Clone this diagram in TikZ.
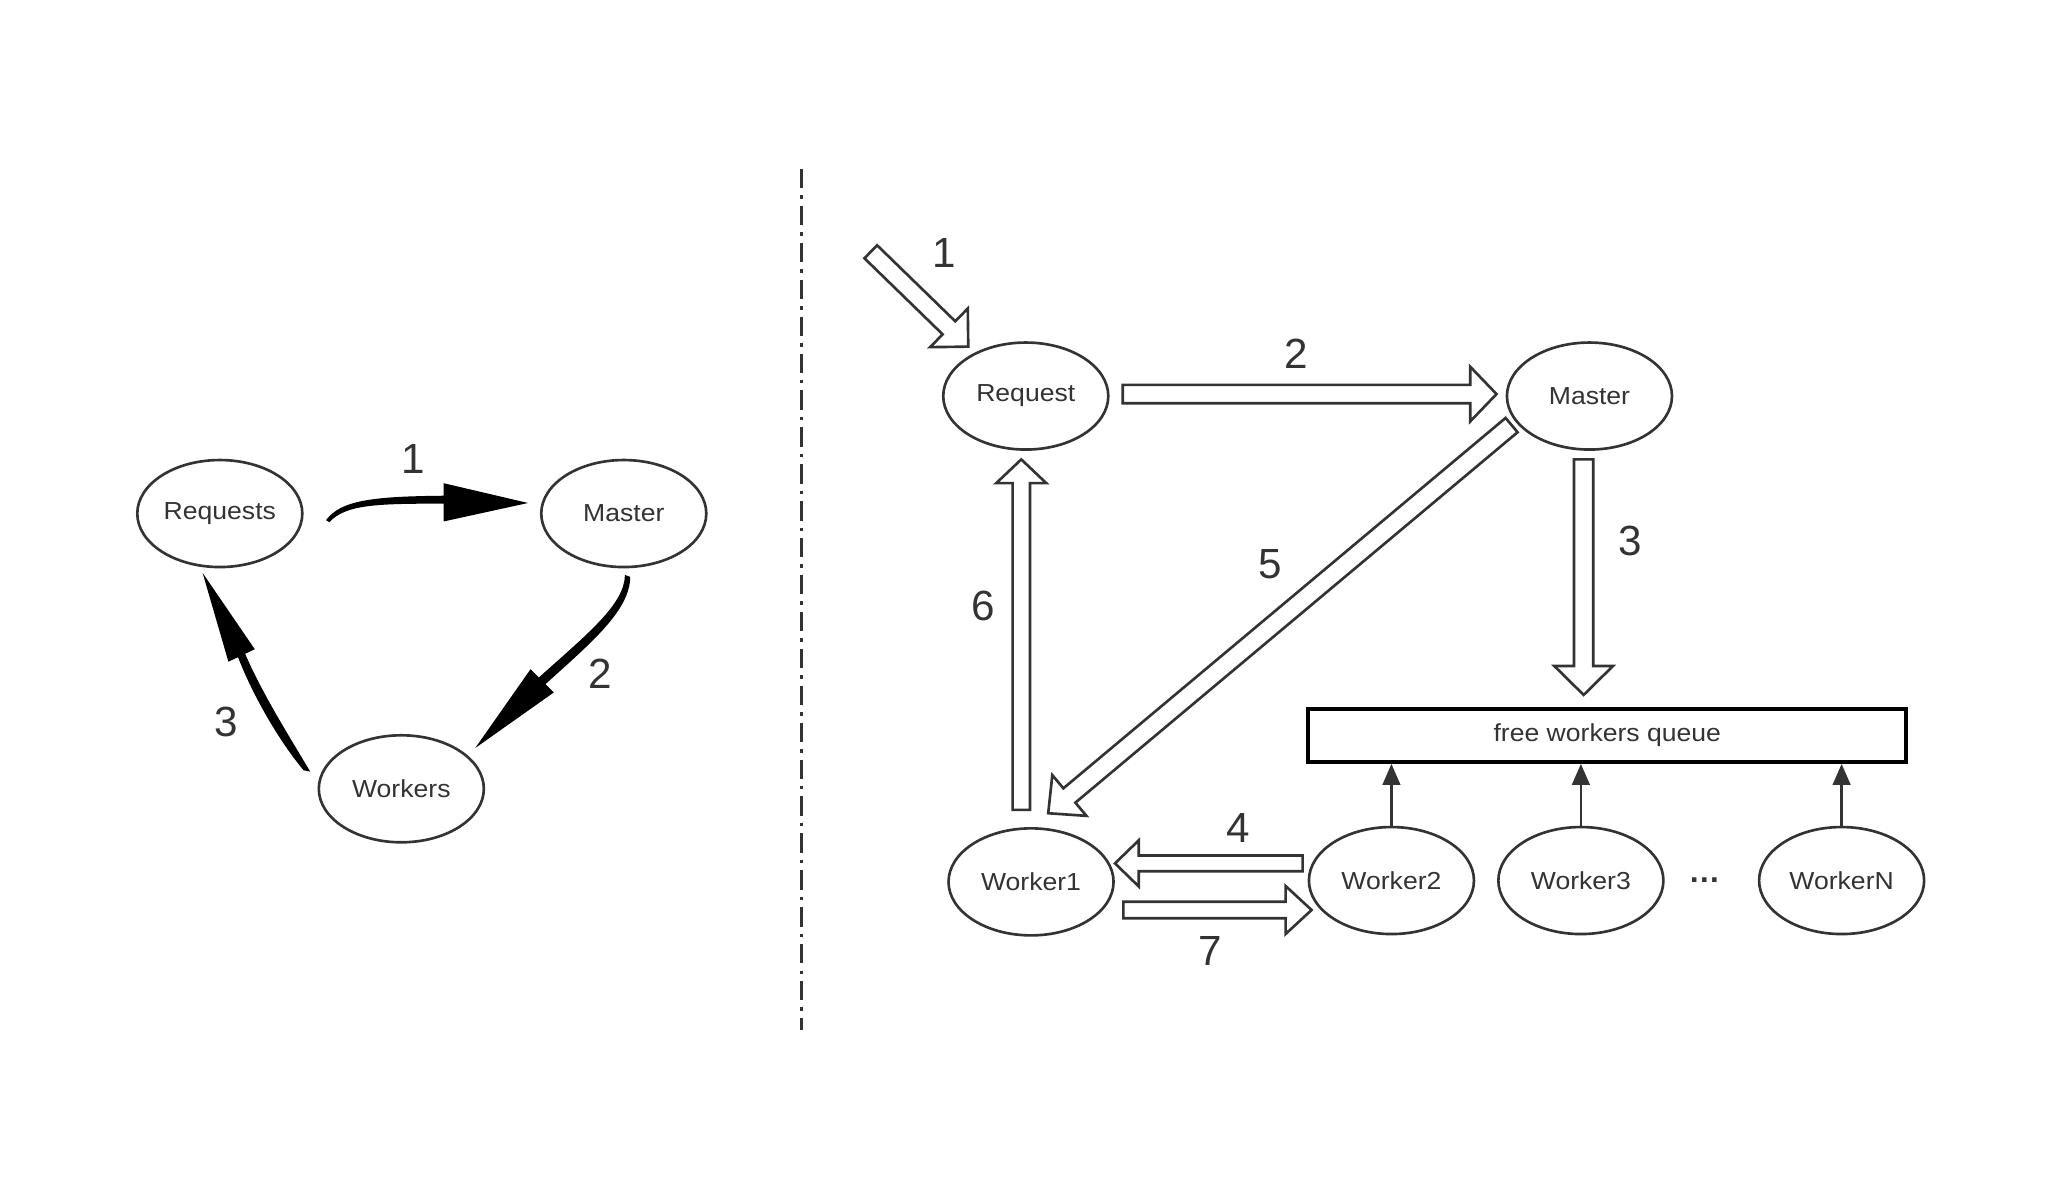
\documentclass[tikz,border=0pt]{standalone}
\usepackage{fontspec}
\setmainfont{Liberation Sans}
\newfontfamily\nodefont[FakeStretch=1.08]{Liberation Sans}
\usetikzlibrary{shapes.geometric,arrows.meta,calc}
\definecolor{ink}{HTML}{333333}
\newcommand\uu{0.37417}
% hollow block arrow: #1 tail, #2 tip, #3 shaft half width, #4 head half width, #5 head length (picture units)
\newcommand\harrow[5]{%
  \draw[hollow] let \p1=(#1), \p2=(#2), \n1={atan2(\y2-\y1,\x2-\x1)}, \n2={veclen(\x2-\x1,\y2-\y1)} in
  [shift={(\p1)}, rotate=\n1]
  (0pt,{-#3*\uu*1pt}) -- ({\n2*1pt-#5*\uu*1pt},{-#3*\uu*1pt}) -- ({\n2*1pt-#5*\uu*1pt},{-#4*\uu*1pt})
  -- ({\n2*1pt},0pt) -- ({\n2*1pt-#5*\uu*1pt},{#4*\uu*1pt}) -- ({\n2*1pt-#5*\uu*1pt},{#3*\uu*1pt})
  -- (0pt,{#3*\uu*1pt}) -- cycle;}
\tikzset{
  ell/.style={ellipse, draw=ink, line width=0.75pt, minimum width=1.65cm, minimum height=1.07cm,
    inner sep=0pt, font=\nodefont\fontsize{7}{8}\selectfont, text=ink},
  lbl/.style={font=\fontsize{12}{14}\selectfont, text=ink, inner sep=0pt},
  hollow/.style={draw=ink, line width=0.75pt, fill=white, line join=miter},
  queuebox/.style={draw=black, line width=1.2pt, minimum width=5.98cm, minimum height=0.528cm,
    inner sep=0pt, font=\nodefont\fontsize{7}{8}\selectfont, text=ink},
  uparrow/.style={draw=ink, line width=0.75pt, -{Triangle[length=6pt,width=5pt]}},
  divider/.style={draw=ink, line width=0.85pt, dash pattern=on 5.5pt off 2pt on 1pt off 2pt}
}
\begin{document}
\begin{tikzpicture}[x=0.0132cm,y=-0.0132cm]
\useasboundingbox (0,0) rectangle (1568,900);
\fill[white] (0,0) rectangle (1568,900);

% ---------- left diagram ----------
\node[ell] (lreq) at (166.5,389) {Requests};
\node[ell] (lmas) at (472.5,389) {Master};
\node[ell] (lwrk) at (304,597.5) {Workers};

% arrow 1 (Requests -> Master)
\fill[black] (247,394) .. controls (258,379) and (282,376) .. (336,375.5)
  -- (336,366) -- (400,381) -- (336,395) -- (336,381.5)
  .. controls (286,381.5) and (262,382) .. (249.5,395.5) -- cycle;
% arrow 2 (Master -> Workers)
\fill[black] (473.4,435.5) .. controls (473,458) and (445,480) .. (408.2,513.2)
  -- (401.9,506.9) -- (360,566.6) -- (419.5,524.5) -- (413.2,518.2)
  .. controls (450,485) and (477,462) .. (477.4,437) -- cycle;
% arrow 3 (Workers -> Requests)
\fill[black] (230,583.5) .. controls (212,562) and (192,528) .. (180.3,497.8)
  -- (173,501.2) -- (153.5,434) -- (193,491.8) -- (185.7,495.2)
  .. controls (198,524) and (218,556) .. (235,584.5) -- cycle;

\node[lbl] (l1) at (313,348) {1};
\node[lbl] (l2) at (455,510) {2};
\node[lbl] (l3) at (171,547) {3};

% ---------- divider ----------
\coordinate (dtop) at (607,128);
\coordinate (dbot) at (607,780);
\draw[divider] (dtop) -- (dbot);

% ---------- right diagram ----------
\node[ell] (rq) at (777,300) {Request};
\node[ell] (ms) at (1204,300) {Master};
\node[ell] (w1) at (781,668) {Worker1};
\node[ell] (w2) at (1054,667) {Worker2};
\node[ell] (w3) at (1197.5,667) {Worker3};
\node[ell] (wn) at (1395,667) {WorkerN};
\node[font=\bfseries\fontsize{9}{10}\selectfont, text=ink, inner sep=0pt] (dots) at (1291,667) {…};
\node[queuebox] (q) at (1217.5,557) {free workers queue};

\draw[uparrow] (w2.north) -- (w2.north |- q.south);
\draw[uparrow] (w3.north) -- (w3.north |- q.south);
\draw[uparrow] (wn.north) -- (wn.north |- q.south);

% arrow end points
\coordinate (a1s) at (659.6,190.7);   \coordinate (a1e) at (733.5,262.6);
\coordinate (a2s) at (850.5,298.5);   \coordinate (a2e) at (1133.6,298.5);
\coordinate (a3s) at (1199.6,348);    \coordinate (a3e) at (1199.6,526.4);
\coordinate (a5s) at (1145,322);      \coordinate (a5e) at (794,616);
\coordinate (a6s) at (773.6,613.5);   \coordinate (a6e) at (773.6,348);
\coordinate (a4s) at (986.7,654);     \coordinate (a4e) at (844.6,654);
\coordinate (a7s) at (850.9,689.3);   \coordinate (a7e) at (993.5,689.3);

\harrow{a1s}{a1e}{6.9}{20.5}{20.5}
\harrow{a2s}{a2e}{7}{20.8}{20}
\harrow{a3s}{a3e}{7.3}{22.3}{22}
\harrow{a5s}{a5e}{7.1}{20.2}{21}
\harrow{a6s}{a6e}{6.6}{19}{18}
\harrow{a4s}{a4e}{6}{17.5}{18}
\harrow{a7s}{a7e}{6.3}{18.2}{19.7}

\node[lbl] (r1) at (715,192) {1};
\node[lbl] (r2) at (982,268) {2};
\node[lbl] (r3) at (1235,410) {3};
\node[lbl] (r5) at (962,427) {5};
\node[lbl] (r6) at (745,459) {6};
\node[lbl] (r4) at (938,627) {4};
\node[lbl] (r7) at (917,720) {7};
\end{tikzpicture}
\end{document}
